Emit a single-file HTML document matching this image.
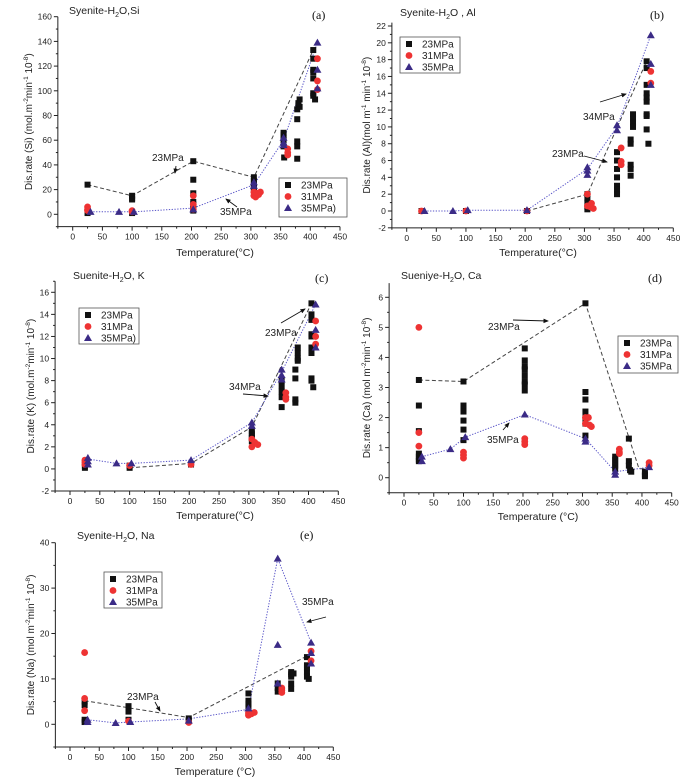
<!DOCTYPE html>
<html><head><meta charset="utf-8">
<style>
html,body{margin:0;padding:0;background:#fff;}
svg{display:block;font-family:"Liberation Sans",Arial,sans-serif;}
</style></head>
<body>
<svg id="fig" width="700" height="779" viewBox="0 0 700 779" xmlns="http://www.w3.org/2000/svg">
<defs><marker id="ah" markerWidth="6" markerHeight="6" refX="5" refY="3" orient="auto"><path d="M0,0.5 L6,3 L0,5.5 z" fill="#111"/></marker></defs>
</svg>
<script>
// ---------- data (temperature °C, rate) ----------
const xTicks=[0,50,100,150,200,250,300,350,400,450];
// (a) Si
const siTicks=[0,20,40,60,80,100,120,140,160];
const si23=[[25,24],[25,1],[100,15],[100,13],[100,12],[100,1],[203,43],[203,28],[203,17],[203,10],[203,8],[203,5],[203,3],[305,30],[305,27],[305,25],[305,22],[305,20],[355,66],[355,64],[355,62],[355,60],[355,55],[356,46],[378,45],[378,55],[378,59],[378,77],[378,85],[380,88],[382,93],[382,87],[380,90],[405,133],[405,126],[405,117],[405,115],[405,110],[405,98],[405,96],[408,93]];
const si31=[[25,6],[25,4],[25,3],[100,3],[100,2],[203,15],[203,8],[203,4],[305,18],[305,15],[308,14],[310,17],[313,16],[316,18],[362,53],[362,50],[362,48],[412,126],[412,108],[412,101]];
const si35=[[30,2],[78,2],[103,2],[203,4],[305,26],[305,23],[355,62],[355,58],[355,56],[412,139],[412,117],[412,102]];
const siLine23=[[25,24],[100,15],[203,43],[305,30],[405,133]];
const siLine35=[[30,2],[78,2],[103,2],[203,5],[305,24],[355,60],[412,139]];
// (b) Al
const alTicks=[-2,0,2,4,6,8,10,12,14,16,18,20,22];
const al23=[[25,0],[100,0],[203,0],[305,2],[305,1.5],[305,1],[305,0.5],[305,0.2],[355,7],[355,6],[355,5],[355,4],[355,3],[355,2.5],[355,2],[378,8.5],[378,8],[378,5.5],[378,5],[378,4.2],[382,11.5],[382,11],[382,10.5],[382,10],[405,17.8],[405,17],[405,15],[405,14],[405,13.5],[405,13],[405,11.5],[405,11.3],[405,9.7],[408,8]];
const al31=[[25,0],[100,0],[203,0],[305,2],[305,0.6],[310,0.5],[312,0.9],[315,0.3],[362,7.5],[362,5.9],[362,5.5],[412,16.6],[412,15.2]];
const al35=[[30,0],[78,0],[103,0.1],[203,0.1],[305,5.2],[305,4.8],[305,4.3],[355,10.2],[355,9.6],[412,20.9],[412,17.5],[412,15]];
const alLine23=[[203,0],[305,2],[405,17.8]];
const alLine35=[[30,0],[78,0],[103,0.1],[203,0.1],[305,5],[355,10],[412,20.9]];
// (c) K
const kTicks=[-2,0,2,4,6,8,10,12,14,16];
const k23=[[25,0.1],[25,0.3],[100,0.1],[100,0.3],[203,0.4],[305,3.5],[305,3.2],[305,3],[305,2.8],[305,2.5],[355,8],[355,7.5],[355,7],[355,6.5],[355,5.6],[378,9],[378,8.2],[378,6],[378,6.3],[382,11],[382,10.5],[382,10],[382,9.8],[405,15],[405,14],[405,13.5],[405,12.2],[405,12],[405,11],[405,10.5],[405,8.2],[405,8],[408,7.4]];
const k31=[[25,0.8],[25,0.6],[25,0.4],[100,0.3],[203,0.4],[305,2.7],[305,2],[310,2.4],[315,2.2],[362,6.9],[362,6.5],[362,6.3],[412,13.4],[412,12],[412,11.3]];
const k35=[[30,1],[30,0.7],[30,0.4],[78,0.5],[103,0.5],[203,0.8],[305,4.2],[305,3.9],[355,9],[355,8.5],[355,8.1],[412,14.9],[412,12.6],[412,11]];
const kLine23=[[100,0.1],[203,0.5],[305,3.8],[405,15]];
const kLine35=[[30,0.9],[78,0.5],[103,0.5],[203,0.8],[305,4.2],[355,8.8],[412,14.9]];
// (d) Ca
const caTicks=[0,1,2,3,4,5,6];
const ca23=[[25,3.25],[25,2.4],[25,1.55],[25,0.8],[25,0.7],[25,0.6],[25,0.55],[100,3.2],[100,2.4],[100,2.3],[100,2.2],[100,1.9],[100,1.6],[100,1.25],[203,4.3],[203,3.9],[203,3.7],[203,3.6],[203,3.4],[203,3.2],[203,3.1],[203,2.9],[305,5.8],[305,2.85],[305,2.6],[305,2.2],[305,2.0],[305,1.8],[305,1.4],[355,0.7],[355,0.6],[355,0.5],[355,0.4],[355,0.3],[378,1.3],[378,0.55],[378,0.4],[380,0.25],[382,0.2],[405,0.2],[405,0.1],[405,0.05]];
const ca31=[[25,5.0],[25,1.5],[25,1.05],[100,0.85],[100,0.75],[100,0.65],[203,1.3],[203,1.2],[203,1.1],[305,2.0],[305,1.8],[310,2.0],[312,1.75],[315,1.7],[362,0.95],[362,0.85],[362,0.8],[412,0.5],[412,0.4]];
const ca35=[[30,0.7],[30,0.55],[78,0.95],[103,1.35],[203,2.1],[305,1.3],[305,1.2],[355,0.2],[355,0.1],[412,0.35]];
const caLine23=[[25,3.25],[100,3.2],[305,5.8],[395,0.3],[412,0.3]];
const caLine35=[[30,0.7],[78,0.95],[103,1.35],[203,2.1],[305,1.3],[355,0.2],[412,0.35]];
// (e) Na
const naTicks=[0,10,20,30,40];
const na23=[[25,5],[25,4.2],[25,1],[25,0.5],[100,4],[100,3.5],[100,2.8],[100,1],[203,1.3],[203,0.9],[305,6.8],[305,5.2],[305,4.5],[305,3.8],[355,9],[355,8],[355,7.2],[378,11.5],[378,11],[378,10.5],[378,9],[378,7.8],[382,11.2],[405,14.8],[405,13],[405,12.5],[405,11.5],[405,10.5],[408,10]];
const na31=[[25,15.8],[25,5.7],[25,3],[100,0.7],[203,0.4],[305,2.5],[305,2],[310,2.3],[315,2.6],[362,8],[362,7.5],[362,7],[412,16.1],[412,14]];
const na35=[[30,1],[30,0.5],[78,0.3],[103,0.5],[203,0.8],[305,3.5],[355,36.5],[355,17.5],[355,9],[412,18],[412,15.7],[412,13.4]];
const naLine23=[[25,5.2],[203,1.5],[412,15.5]];
const naLine35=[[30,1],[78,0.3],[103,0.5],[203,1.2],[305,3.3],[355,36.5],[412,18]];

// ---------- rendering ----------
const NS="http://www.w3.org/2000/svg";
const svg=document.getElementById('fig');
function mk(tag,attrs,parent){const e=document.createElementNS(NS,tag);for(const k in attrs)e.setAttribute(k,attrs[k]);(parent||svg).appendChild(e);return e;}

const panels=[
 {key:'si',x0:72.7,x450:340,yA:16.7,vA:160,yB:214.3,vB:0,ymin:-10,ytop:160,ticks:siTicks,minorStep:10,
  s23:si23,s31:si31,s35:si35,l23:siLine23,l35:siLine35,
  title:['Syenite-H','2','O,Si'],tx:69,ty:10,lab:'(a)',lx:312,ly:19,xl:'Temperature(°C)',xlx:215,xly:256,
  yl:'Si',ylSep:' (mol.m',ylx:28,leg:[279,178,68,39],legNames:['23MPa','31MPa','35MPa)'],
  ann:[['23MPa',152,161,[176,166,175,173]],['35MPa',220,215,[237,207,226,199]]]},
 {key:'al',x0:406.7,x450:673.3,yA:26,vA:22,yB:211,vB:0,ymin:-2,ytop:22.4,ticks:alTicks,minorStep:1,
  s23:al23,s31:al31,s35:al35,l23:alLine23,l35:alLine35,
  title:['Syenite-H','2','O , Al'],tx:400,ty:12,lab:'(b)',lx:650,ly:19,xl:'Temperature(°C)',xlx:538,xly:256,
  yl:'Al',ylSep:'(mol m',ylx:366,leg:[400,37,60,36],legNames:['23MPa','31MPa','35MPa'],
  ann:[['34MPa',583,120,[600,102,626,94]],['23MPa',552,157,[584,156,607,162]]]},
 {key:'k',x0:70,x450:338.3,yA:292.3,vA:16,yB:491,vB:-2,ymin:-2,ytop:17,ticks:kTicks,minorStep:1,
  s23:k23,s31:k31,s35:k35,l23:kLine23,l35:kLine35,
  title:['Suenite-H','2','O, K'],tx:73,ty:275,lab:'(c)',lx:315,ly:282,xl:'Temperature(°C)',xlx:215,xly:519,
  yl:'K',ylSep:' (mol.m',ylx:30,leg:[79,308,60,36],legNames:['23MPa','31MPa','35MPa)'],
  ann:[['34MPa',229,390,[243,394,268,396]],['23MPa',265,336,[281,323,305,309]]]},
 {key:'ca',x0:404,x450:671.7,yA:297.3,vA:6,yB:477.7,vB:0,ymin:-0.5,ytop:6.47,ticks:caTicks,minorStep:0.5,
  s23:ca23,s31:ca31,s35:ca35,l23:caLine23,l35:caLine35,
  title:['Sueniye-H','2','O, Ca'],tx:401,ty:275,lab:'(d)',lx:648,ly:282,xl:'Temperature (°C)',xlx:538,xly:520,
  yl:'Ca',ylSep:' (mol m',ylx:366,leg:[618,336,60,37],legNames:['23MPa','31MPa','35MPa'],
  ann:[['23MPa',488,330,[513,320,548,321]],['35MPa',487,443,[503,430,509,423]]]},
 {key:'na',x0:70,x450:333.3,yA:542.7,vA:40,yB:724.3,vB:0,ymin:-5,ytop:40,ticks:naTicks,minorStep:5,
  s23:na23,s31:na31,s35:na35,l23:naLine23,l35:naLine35,
  title:['Syenite-H','2','O, Na'],tx:77,ty:535,lab:'(e)',lx:300,ly:539,xl:'Temperature (°C)',xlx:215,xly:775,
  yl:'Na',ylSep:' (mol m',ylx:30,leg:[104,572,58,36],legNames:['23MPa','31MPa','35MPa'],
  ann:[['23MPa',127,700,[155,702,160,711]],['35MPa',302,605,[326,617,307,622]]]}
];

function drawPanel(p){
  const g=mk('g',{});
  
  
  const kx=(p.x450-p.x0)/450;
  const sx=v=>p.x0+v*kx;
  const ky=(p.yB-p.yA)/(p.vA-p.vB);
  const sy=v=>p.yB-(v-p.vB)*ky;
  const xL=sx(-25), yBot=sy(p.ymin), yTop=sy(p.ytop);
  // axes
  const ax=mk('g',{stroke:'#222','stroke-width':1,fill:'none'},g);
  
  
  mk('line',{x1:xL,y1:yTop,x2:xL,y2:yBot},ax);
  mk('line',{x1:xL,y1:yBot,x2:sx(450),y2:yBot},ax);
  const tl=mk('g',{fill:'#222','font-size':8.5},g);
  
  
  for(let v=-25;v<=450;v+=25){const major=v%50===0;
    mk('line',{x1:sx(v),y1:yBot,x2:sx(v),y2:yBot+(major?4:2)},ax);}
  xTicks.forEach(v=>{const t=mk('text',{x:sx(v),y:yBot+13,'text-anchor':'middle'},tl);t.textContent=v;});
  for(let v=p.ymin;v<=p.ytop+1e-9;v+=p.minorStep){
    const major=p.ticks.some(t=>Math.abs(t-v)<1e-9);
    mk('line',{x1:xL,y1:sy(v),x2:xL-(major?4:2),y2:sy(v)},ax);}
  p.ticks.forEach(v=>{const t=mk('text',{x:xL-6,y:sy(v)+3,'text-anchor':'end'},tl);t.textContent=v;});
  // lines
  const path=pts=>pts.map((q,i)=>(i?'L':'M')+sx(q[0]).toFixed(1)+','+sy(q[1]).toFixed(1)).join(' ');
  const l1=mk('path',{d:path(p.l23),fill:'none',stroke:'#444','stroke-width':1,'stroke-dasharray':'4,2.5'},g);
  
  
  const l2=mk('path',{d:path(p.l35),fill:'none',stroke:'#5a56c8','stroke-width':1,'stroke-dasharray':'1.3,1.5'},g);
  
  
  // markers
  const sq=(x,y,par)=>mk('rect',{x:x-3,y:y-3,width:6,height:6,fill:'#111'},par);
  const ci=(x,y,par)=>mk('circle',{cx:x,cy:y,r:3.4,fill:'#ee3333'},par);
  const tr=(x,y,par)=>mk('path',{d:`M${x},${y-4} L${x+4},${y+3} L${x-4},${y+3} Z`,fill:'#3b2b86'},par);
  const gs=mk('g',{},g);
  p.s23.forEach(q=>sq(sx(q[0]),sy(q[1]),gs));
  const gc=mk('g',{},g);
  p.s31.forEach(q=>ci(sx(q[0]),sy(q[1]),gc));
  const gt=mk('g',{},g);
  p.s35.forEach(q=>tr(sx(q[0]),sy(q[1]),gt));
  // title
  const t=mk('text',{x:p.tx,y:p.ty+4,'font-size':10.5,fill:'#222'},g);
  
  
  mk('tspan',{},t).textContent=p.title[0];
  mk('tspan',{'font-size':7,dy:3},t).textContent=p.title[1];
  mk('tspan',{dy:-3},t).textContent=p.title[2];
  const lb=mk('text',{x:p.lx,y:p.ly,'font-size':12,'font-family':'Liberation Serif, serif',fill:'#111'},g);
  
  
  lb.textContent=p.lab;
  const xlab=mk('text',{x:p.xlx,y:p.xly,'font-size':10.5,'text-anchor':'middle',fill:'#222'},g);
  
  
  xlab.textContent=p.xl;
  const ycy=(yTop+yBot)/2;
  const ylab=mk('text',{x:0,y:0,'font-size':10,'text-anchor':'middle',fill:'#222',transform:`translate(${p.ylx+4},${ycy}) rotate(-90)`},g);
  
  
  mk('tspan',{},ylab).textContent='Dis.rate ('+p.yl+')'+p.ylSep;
  mk('tspan',{'font-size':6.5,dy:-4},ylab).textContent=(p.key==='al'?'-1':'-2');
  mk('tspan',{dy:4},ylab).textContent=(p.key==='al'?' min':'min');
  mk('tspan',{'font-size':6.5,dy:-4},ylab).textContent='-1';
  mk('tspan',{dy:4},ylab).textContent=' 10';
  mk('tspan',{'font-size':6.5,dy:-4},ylab).textContent='-8';
  mk('tspan',{dy:4},ylab).textContent=')';
  // legend
  const [lx,ly,lw,lh]=p.leg;
  const lg=mk('g',{},g);
  
  
  mk('rect',{x:lx,y:ly,width:lw,height:lh,fill:'#fff',stroke:'#555','stroke-width':0.8},lg);
  const fns=[sq,ci,tr];
  p.legNames.forEach((n,i)=>{
    const yy=ly+7+i*11.5;
    const e=mk('g',{},lg);
    
    
    fns[i](lx+9,yy,e);
    const tt=mk('text',{x:lx+22,y:yy+3.5,'font-size':10,fill:'#222'},e);tt.textContent=n;
  });
  // annotations
  p.ann.forEach(a=>{
    const ag=mk('g',{},g);
    
    
    const tt=mk('text',{x:a[1],y:a[2],'font-size':10,fill:'#222'},ag);tt.textContent=a[0];
    const c=a[3];
    mk('line',{x1:c[0],y1:c[1],x2:c[2],y2:c[3],stroke:'#111','stroke-width':0.9,'marker-end':'url(#ah)'},ag);
  });
}
panels.forEach(drawPanel);
</script>
</body></html>
